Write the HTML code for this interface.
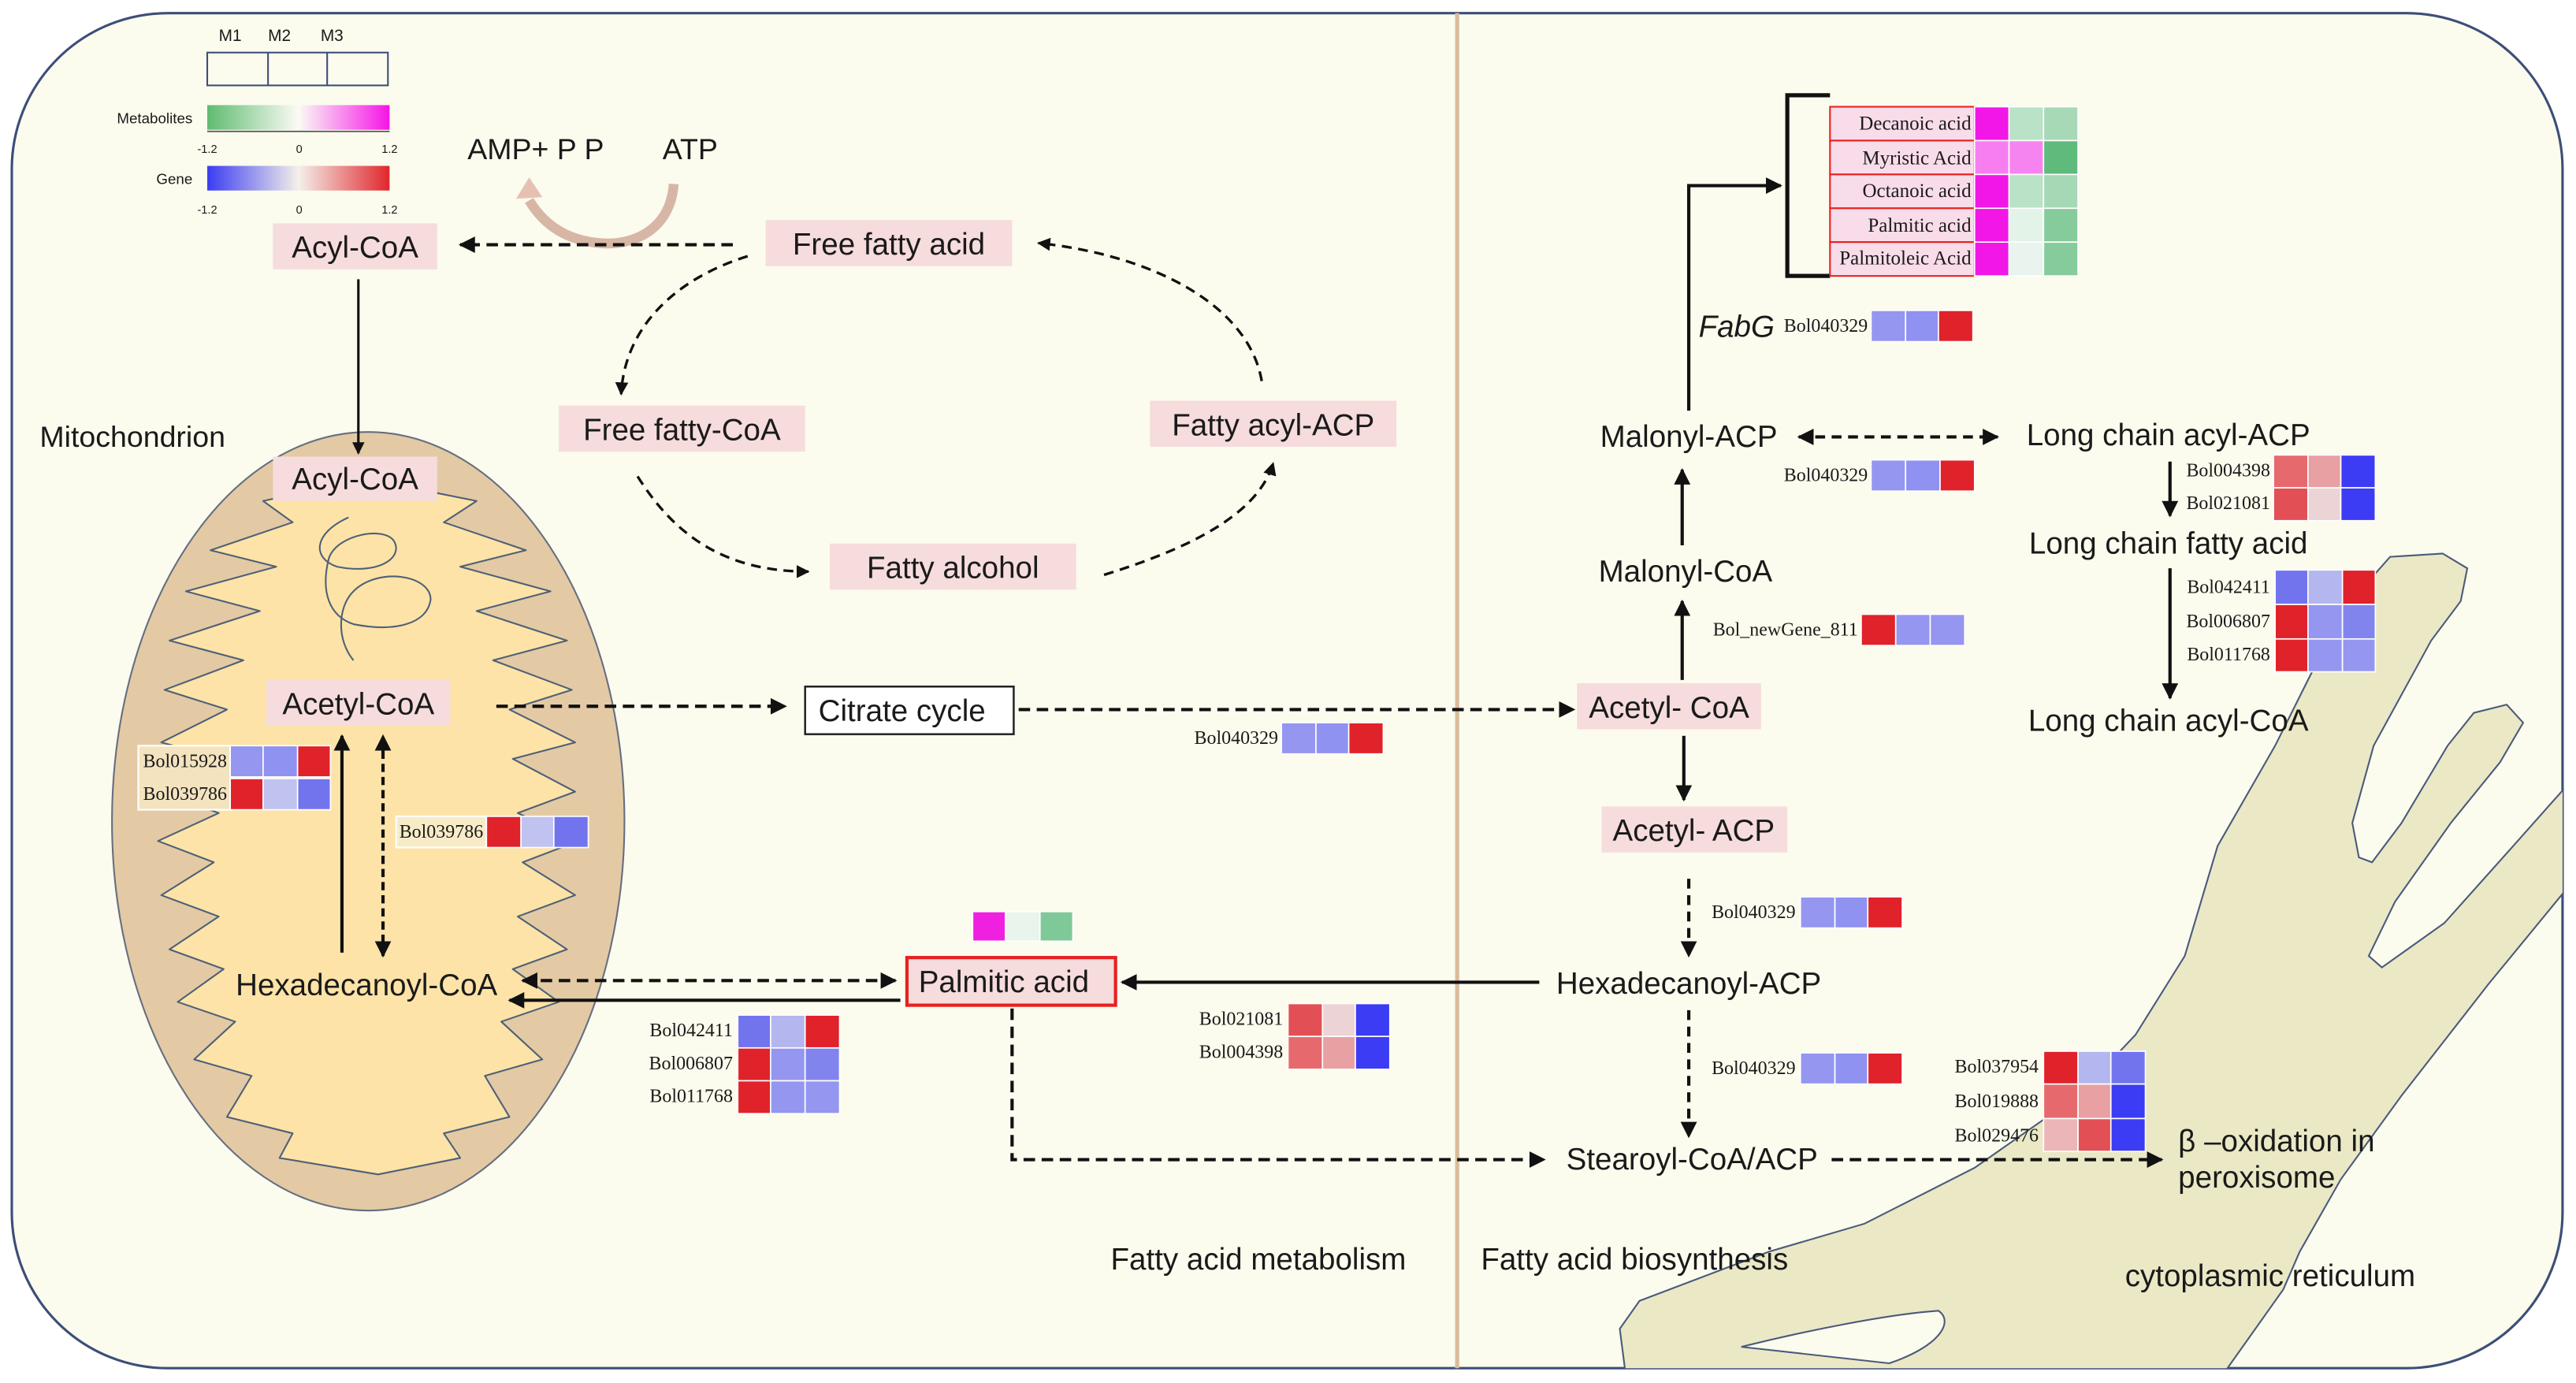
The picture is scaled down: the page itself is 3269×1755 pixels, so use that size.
<!DOCTYPE html>
<html><head><meta charset="utf-8"><style>
html,body{margin:0;padding:0;background:#fff;}
svg{display:block;}
text{font-family:"Liberation Sans",sans-serif;fill:#1a1a1a;}
</style></head><body>
<svg width="3269" height="1755" viewBox="0 0 1568 842" xmlns="http://www.w3.org/2000/svg">
<defs>
<marker id="a" viewBox="0 0 10 10" refX="9" refY="5" markerWidth="5" markerHeight="5" orient="auto-start-reverse"><path d="M0,0 L10,5 L0,10 z" fill="#111"/></marker>
<clipPath id="cl"><rect x="7" y="8" width="1553" height="825" rx="95"/></clipPath>
<linearGradient id="gm" x1="0" x2="1"><stop offset="0" stop-color="#5fbb70"/><stop offset="0.5" stop-color="#fbfbf5"/><stop offset="1" stop-color="#f514e6"/></linearGradient>
<linearGradient id="gg" x1="0" x2="1"><stop offset="0" stop-color="#3b3cf2"/><stop offset="0.5" stop-color="#f4f0ea"/><stop offset="1" stop-color="#e0262c"/></linearGradient>
</defs>
<rect x="0" y="0" width="1568" height="842" fill="#fff"/>
<rect x="7" y="8" width="1553" height="825" rx="95" fill="#fbfbee" stroke="#3d4e78" stroke-width="1.5"/>
<g clip-path="url(#cl)">
<path d="M986,809 L998,792 L1077,762 L1135,745 L1202,711 L1265,667 L1300,630 L1330,582 L1350,515 L1385,454 L1412,400 L1440,356 L1455,339 L1487,337 L1502,346 L1498,366 L1480,390 L1445,454 L1432,501 L1436,522 L1444,525 L1462,501 L1490,454 L1506,434 L1526,429 L1536,440 L1522,464 L1492,501 L1458,549 L1442,582 L1450,589 L1488,562 L1530,515 L1570,470 L1570,532 L1515,599 L1462,667 L1425,718 L1400,762 L1390,785 L1351,840 L990,840 Z" fill="#ebe8c6" stroke="#4a5a7a" stroke-width="1"/>
<path d="M1060,820 C1100,810 1150,800 1180,798 C1190,805 1180,820 1150,830 Z" fill="#fbfbee" stroke="#4a5a7a" stroke-width="1"/>
</g>
<line x1="887" y1="8" x2="887" y2="833" stroke="#d9bc9c" stroke-width="2.5"/>

<!-- legend -->
<text x="133" y="25" font-size="10" fill="#333">M1</text><text x="163" y="25" font-size="10" fill="#333">M2</text><text x="195" y="25" font-size="10" fill="#333">M3</text>
<rect x="126" y="32" width="110" height="20" fill="none" stroke="#3d4e78" stroke-width="1"/>
<line x1="163" y1="32" x2="163" y2="52" stroke="#3d4e78"/><line x1="199" y1="32" x2="199" y2="52" stroke="#3d4e78"/>
<text x="117" y="75" font-size="9" text-anchor="end" fill="#333">Metabolites</text>
<rect x="126" y="64" width="111" height="15" fill="url(#gm)"/>
<line x1="126" y1="80" x2="237" y2="80" stroke="#555" stroke-width="0.8"/>
<text x="126" y="93" font-size="7" text-anchor="middle">-1.2</text><text x="182" y="93" font-size="7" text-anchor="middle">0</text><text x="237" y="93" font-size="7" text-anchor="middle">1.2</text>
<text x="117" y="112" font-size="9" text-anchor="end" fill="#333">Gene</text>
<rect x="126" y="101" width="111" height="15" fill="url(#gg)"/>
<text x="126" y="130" font-size="7" text-anchor="middle">-1.2</text><text x="182" y="130" font-size="7" text-anchor="middle">0</text><text x="237" y="130" font-size="7" text-anchor="middle">1.2</text>

<text x="326" y="97" font-size="18" text-anchor="middle">AMP+ P P</text>
<text x="420" y="97" font-size="18" text-anchor="middle">ATP</text>
<path d="M410,112 C408,140 385,150 365,148 C340,146 328,132 322,122" fill="none" stroke="#d8b6a6" stroke-width="6"/>
<path d="M314,121 L322,108 L330,120 Z" fill="#e6c1b3"/>

<!-- mitochondrion -->
<text x="24" y="272" font-size="18">Mitochondrion</text>
<ellipse cx="224" cy="500" rx="156" ry="237" fill="#e3caa4" stroke="#666e80" stroke-width="1"/>
<path d="M183,300 L265,300 L290,305 L270,318 L320,335 L280,345 L335,360 L290,372 L345,390 L300,402 L348,420 L310,432 L350,452 L312,462 L350,482 L315,495 L352,512 L318,525 L350,545 L315,558 L345,578 L312,590 L340,610 L305,622 L330,645 L295,655 L310,680 L270,690 L280,705 L230,715 L170,705 L178,690 L138,680 L153,655 L118,645 L143,622 L108,610 L136,590 L103,578 L133,558 L98,545 L130,525 L96,512 L133,495 L98,482 L136,462 L98,452 L138,432 L100,420 L148,402 L103,390 L158,372 L113,360 L168,345 L128,335 L178,318 L160,305 Z" fill="#fde3a7" stroke="#4e6078" stroke-width="1" stroke-linejoin="round"/>
<path d="M212,315 C190,325 190,340 205,345 C230,350 245,340 240,330 C235,320 205,325 200,340 C195,360 200,375 215,380 C240,385 260,380 262,365 C262,350 230,345 215,360 C205,370 205,390 215,402" fill="none" stroke="#4e6078" stroke-width="1"/>

<!-- nodes -->
<g fill="#f6dcdc">
<rect x="166" y="136" width="100" height="28"/>
<rect x="466" y="134" width="150" height="28"/>
<rect x="340" y="247" width="150" height="28"/>
<rect x="700" y="244" width="150" height="28"/>
<rect x="505" y="331" width="150" height="28"/>
<rect x="166" y="278" width="100" height="27"/>
<rect x="162" y="414" width="112" height="28"/>
<rect x="960" y="416" width="112" height="28"/>
<rect x="975" y="491" width="113" height="28"/>
</g>
<rect x="552" y="583" width="127" height="29" fill="#f6dcdc" stroke="#e8201f" stroke-width="2"/>
<rect x="490" y="418" width="127" height="29" fill="#fff" stroke="#222" stroke-width="1.2"/>
<g text-anchor="middle" font-size="18.5">
<text x="216" y="157">Acyl-CoA</text>
<text x="541" y="155">Free fatty acid</text>
<text x="415" y="268">Free fatty-CoA</text>
<text x="775" y="265">Fatty acyl-ACP</text>
<text x="580" y="352">Fatty alcohol</text>
<text x="216" y="298">Acyl-CoA</text>
<text x="218" y="435">Acetyl-CoA</text>
<text x="223" y="606">Hexadecanoyl-CoA</text>
<text x="549" y="439">Citrate cycle</text>
<text x="611" y="604">Palmitic acid</text>
<text x="1016" y="437">Acetyl- CoA</text>
<text x="1031" y="512">Acetyl- ACP</text>
<text x="1028" y="272">Malonyl-ACP</text>
<text x="1026" y="354">Malonyl-CoA</text>
<text x="1028" y="605">Hexadecanoyl-ACP</text>
<text x="1030" y="712">Stearoyl-CoA/ACP</text>
<text x="1320" y="271">Long chain acyl-ACP</text>
<text x="1320" y="337">Long chain fatty acid</text>
<text x="1320" y="445">Long chain acyl-CoA</text>
<text x="766" y="773">Fatty acid metabolism</text>
<text x="995" y="773">Fatty acid biosynthesis</text>
<text x="1382" y="783">cytoplasmic reticulum</text>
</g>
<text x="1326" y="701" font-size="18.5">β –oxidation in</text>
<text x="1326" y="723" font-size="18.5">peroxisome</text>
<text x="1034" y="205" font-size="18.5" font-style="italic">FabG</text>

<!-- arrows -->
<g fill="none" stroke="#111" stroke-width="2">
<line x1="446" y1="149" x2="280" y2="149" stroke-dasharray="7,4" marker-end="url(#a)"/>
<line x1="218" y1="170" x2="218" y2="276" stroke-width="1.5" marker-end="url(#a)"/>
<path d="M455,156 C410,170 380,200 378,240" stroke-dasharray="6,4" stroke-width="1.6" marker-end="url(#a)"/>
<path d="M388,290 C410,325 440,348 492,348" stroke-dasharray="6,4" stroke-width="1.6" marker-end="url(#a)"/>
<path d="M672,350 C720,335 765,315 775,282" stroke-dasharray="6,4" stroke-width="1.6" marker-end="url(#a)"/>
<path d="M768,232 C760,185 700,155 632,148" stroke-dasharray="6,4" stroke-width="1.6" marker-end="url(#a)"/>
<line x1="302" y1="430" x2="478" y2="430" stroke-dasharray="7,4" marker-end="url(#a)"/>
<line x1="620" y1="432" x2="958" y2="432" stroke-dasharray="7,4" marker-end="url(#a)"/>
<line x1="208" y1="580" x2="208" y2="448" marker-end="url(#a)"/>
<line x1="233" y1="582" x2="233" y2="448" stroke-dasharray="5,3" marker-start="url(#a)" marker-end="url(#a)"/>
<line x1="318" y1="597" x2="545" y2="597" stroke-dasharray="7,4" marker-start="url(#a)" marker-end="url(#a)"/>
<line x1="548" y1="609" x2="310" y2="609" marker-end="url(#a)"/>
<line x1="937" y1="598" x2="683" y2="598" marker-end="url(#a)"/>
<path d="M616,614 L616,706 L940,706" stroke-dasharray="7,4" marker-end="url(#a)"/>
<line x1="1115" y1="706" x2="1316" y2="706" stroke-dasharray="7,4" marker-end="url(#a)"/>
<line x1="1025" y1="448" x2="1025" y2="487" marker-end="url(#a)"/>
<line x1="1028" y1="535" x2="1028" y2="582" stroke-dasharray="6,4" marker-end="url(#a)"/>
<line x1="1028" y1="615" x2="1028" y2="692" stroke-dasharray="6,4" marker-end="url(#a)"/>
<line x1="1024" y1="414" x2="1024" y2="366" marker-end="url(#a)"/>
<line x1="1024" y1="332" x2="1024" y2="286" marker-end="url(#a)"/>
<path d="M1028,250 L1028,113 L1084,113" marker-end="url(#a)"/>
<line x1="1095" y1="266" x2="1216" y2="266" stroke-dasharray="6,4" marker-start="url(#a)" marker-end="url(#a)"/>
<line x1="1321" y1="281" x2="1321" y2="314" marker-end="url(#a)"/>
<line x1="1321" y1="346" x2="1321" y2="425" marker-end="url(#a)"/>
<path d="M1114,58 L1088,58 L1088,168 L1114,168" stroke-width="2.5"/>
</g>

<!-- metabolite table -->
<g fill="#f9dce9" stroke="#e8201f" stroke-width="1">
<rect x="1114" y="65" width="88" height="20.6"/><rect x="1114" y="85.6" width="88" height="20.6"/><rect x="1114" y="106.2" width="88" height="20.6"/><rect x="1114" y="126.8" width="88" height="20.6"/><rect x="1114" y="147.4" width="88" height="20.6"/>
</g>
<g font-size="12" text-anchor="end">
<text x="1200" y="79" style="font-family:'Liberation Serif',serif">Decanoic acid</text>
<text x="1200" y="100" style="font-family:'Liberation Serif',serif">Myristic Acid</text>
<text x="1200" y="120" style="font-family:'Liberation Serif',serif">Octanoic acid</text>
<text x="1200" y="141" style="font-family:'Liberation Serif',serif">Palmitic acid</text>
<text x="1200" y="161" style="font-family:'Liberation Serif',serif">Palmitoleic Acid</text>
</g>
<g stroke="#fff" stroke-width="0.8">
<rect x="1202" y="65" width="21" height="20.6" fill="#f217e6"/><rect x="1223" y="65" width="21" height="20.6" fill="#b9e2c6"/><rect x="1244" y="65" width="21" height="20.6" fill="#a7d9b7"/>
<rect x="1202" y="85.6" width="21" height="20.6" fill="#f77ef0"/><rect x="1223" y="85.6" width="21" height="20.6" fill="#f584f0"/><rect x="1244" y="85.6" width="21" height="20.6" fill="#5fbb7b"/>
<rect x="1202" y="106.2" width="21" height="20.6" fill="#f217e6"/><rect x="1223" y="106.2" width="21" height="20.6" fill="#b9e2c6"/><rect x="1244" y="106.2" width="21" height="20.6" fill="#a5d8b5"/>
<rect x="1202" y="126.8" width="21" height="20.6" fill="#f217e6"/><rect x="1223" y="126.8" width="21" height="20.6" fill="#e4f3e8"/><rect x="1244" y="126.8" width="21" height="20.6" fill="#86cb9b"/>
<rect x="1202" y="147.4" width="21" height="20.6" fill="#f217e6"/><rect x="1223" y="147.4" width="21" height="20.6" fill="#e8f4ed"/><rect x="1244" y="147.4" width="21" height="20.6" fill="#86cb9b"/>
<rect x="592" y="555" width="20" height="18" fill="#f020e0"/><rect x="612" y="555" width="21" height="18" fill="#e8f4ec"/><rect x="633" y="555" width="20" height="18" fill="#7fc998"/>
</g>

<!-- gene heatmaps -->
<rect x="84" y="454" width="56" height="39" fill="#f3e3bf" stroke="#fff"/>
<rect x="241" y="497" width="55" height="19" fill="#f8ecc8" stroke="#fff"/>
<g stroke="#fff" stroke-width="0.8">
<rect x="140" y="454" width="20" height="19" fill="#9496ef"/><rect x="160" y="454" width="21" height="19" fill="#8f92f0"/><rect x="181" y="454" width="20" height="19" fill="#e0222a"/>
<rect x="140" y="474" width="20" height="19" fill="#e0222a"/><rect x="160" y="474" width="21" height="19" fill="#c0c2f0"/><rect x="181" y="474" width="20" height="19" fill="#7274ee"/>
<rect x="296" y="497" width="21" height="19" fill="#e0222a"/><rect x="317" y="497" width="20" height="19" fill="#c0c2f0"/><rect x="337" y="497" width="21" height="19" fill="#7274ee"/>
<rect x="780" y="440" width="21" height="19" fill="#9496ef"/><rect x="801" y="440" width="20" height="19" fill="#8f92f0"/><rect x="821" y="440" width="21" height="19" fill="#e0222a"/>
<rect x="1139" y="189" width="21" height="19" fill="#9496ef"/><rect x="1160" y="189" width="20" height="19" fill="#8f92f0"/><rect x="1180" y="189" width="21" height="19" fill="#e0222a"/>
<rect x="1139" y="280" width="21" height="19" fill="#9496ef"/><rect x="1160" y="280" width="21" height="19" fill="#8f92f0"/><rect x="1181" y="280" width="21" height="19" fill="#e0222a"/>
<rect x="1133" y="374" width="21" height="19" fill="#e0222a"/><rect x="1154" y="374" width="21" height="19" fill="#9496ef"/><rect x="1175" y="374" width="21" height="19" fill="#9496ef"/>
<rect x="1096" y="546" width="21" height="19" fill="#9496ef"/><rect x="1117" y="546" width="20" height="19" fill="#8f92f0"/><rect x="1137" y="546" width="21" height="19" fill="#e0222a"/>
<rect x="1096" y="641" width="21" height="19" fill="#9496ef"/><rect x="1117" y="641" width="20" height="19" fill="#8f92f0"/><rect x="1137" y="641" width="21" height="19" fill="#e0222a"/>
<rect x="1384" y="277" width="21" height="20" fill="#e66a6d"/><rect x="1405" y="277" width="20" height="20" fill="#e8a0a2"/><rect x="1425" y="277" width="21" height="20" fill="#3c3cf5"/>
<rect x="1384" y="297" width="21" height="20" fill="#e25055"/><rect x="1405" y="297" width="20" height="20" fill="#ecd3d6"/><rect x="1425" y="297" width="21" height="20" fill="#3c3cf5"/>
<rect x="1385" y="347" width="20" height="21" fill="#7274ee"/><rect x="1405" y="347" width="21" height="21" fill="#b4b6ef"/><rect x="1426" y="347" width="20" height="21" fill="#e0222a"/>
<rect x="1385" y="368" width="20" height="21" fill="#e0222a"/><rect x="1405" y="368" width="21" height="21" fill="#9496ef"/><rect x="1426" y="368" width="20" height="21" fill="#8284ee"/>
<rect x="1385" y="389" width="20" height="20" fill="#e0222a"/><rect x="1405" y="389" width="21" height="20" fill="#9496ef"/><rect x="1426" y="389" width="20" height="20" fill="#9496ef"/>
<rect x="449" y="618" width="20" height="20" fill="#7274ee"/><rect x="469" y="618" width="21" height="20" fill="#b4b6ef"/><rect x="490" y="618" width="21" height="20" fill="#e0222a"/>
<rect x="449" y="638" width="20" height="20" fill="#e0222a"/><rect x="469" y="638" width="21" height="20" fill="#9496ef"/><rect x="490" y="638" width="21" height="20" fill="#8284ee"/>
<rect x="449" y="658" width="20" height="20" fill="#e0222a"/><rect x="469" y="658" width="21" height="20" fill="#9496ef"/><rect x="490" y="658" width="21" height="20" fill="#9496ef"/>
<rect x="784" y="611" width="21" height="20" fill="#e25055"/><rect x="805" y="611" width="20" height="20" fill="#ecd3d6"/><rect x="825" y="611" width="21" height="20" fill="#3c3cf5"/>
<rect x="784" y="631" width="21" height="20" fill="#e66a6d"/><rect x="805" y="631" width="20" height="20" fill="#e8a0a2"/><rect x="825" y="631" width="21" height="20" fill="#3c3cf5"/>
<rect x="1244" y="640" width="21" height="20" fill="#e0222a"/><rect x="1265" y="640" width="20" height="20" fill="#b4b6ef"/><rect x="1285" y="640" width="21" height="20" fill="#7274ee"/>
<rect x="1244" y="660" width="21" height="21" fill="#e66a6d"/><rect x="1265" y="660" width="20" height="21" fill="#e8a0a2"/><rect x="1285" y="660" width="21" height="21" fill="#3c3cf5"/>
<rect x="1244" y="681" width="21" height="20" fill="#ecb6b8"/><rect x="1265" y="681" width="20" height="20" fill="#e25055"/><rect x="1285" y="681" width="21" height="20" fill="#3c3cf5"/>
</g>
<g font-size="11.5" text-anchor="end">
<text x="138" y="467" style="font-family:'Liberation Serif',serif">Bol015928</text>
<text x="138" y="487" style="font-family:'Liberation Serif',serif">Bol039786</text>
<text x="294" y="510" style="font-family:'Liberation Serif',serif">Bol039786</text>
<text x="778" y="453" style="font-family:'Liberation Serif',serif">Bol040329</text>
<text x="1137" y="202" style="font-family:'Liberation Serif',serif">Bol040329</text>
<text x="1137" y="293" style="font-family:'Liberation Serif',serif">Bol040329</text>
<text x="1131" y="387" style="font-family:'Liberation Serif',serif">Bol_newGene_811</text>
<text x="1093" y="559" style="font-family:'Liberation Serif',serif">Bol040329</text>
<text x="1093" y="654" style="font-family:'Liberation Serif',serif">Bol040329</text>
<text x="1382" y="290" style="font-family:'Liberation Serif',serif">Bol004398</text>
<text x="1382" y="310" style="font-family:'Liberation Serif',serif">Bol021081</text>
<text x="1382" y="361" style="font-family:'Liberation Serif',serif">Bol042411</text>
<text x="1382" y="382" style="font-family:'Liberation Serif',serif">Bol006807</text>
<text x="1382" y="402" style="font-family:'Liberation Serif',serif">Bol011768</text>
<text x="446" y="631" style="font-family:'Liberation Serif',serif">Bol042411</text>
<text x="446" y="651" style="font-family:'Liberation Serif',serif">Bol006807</text>
<text x="446" y="671" style="font-family:'Liberation Serif',serif">Bol011768</text>
<text x="781" y="624" style="font-family:'Liberation Serif',serif">Bol021081</text>
<text x="781" y="644" style="font-family:'Liberation Serif',serif">Bol004398</text>
<text x="1241" y="653" style="font-family:'Liberation Serif',serif">Bol037954</text>
<text x="1241" y="674" style="font-family:'Liberation Serif',serif">Bol019888</text>
<text x="1241" y="695" style="font-family:'Liberation Serif',serif">Bol029476</text>
</g>
</svg>
</body></html>
